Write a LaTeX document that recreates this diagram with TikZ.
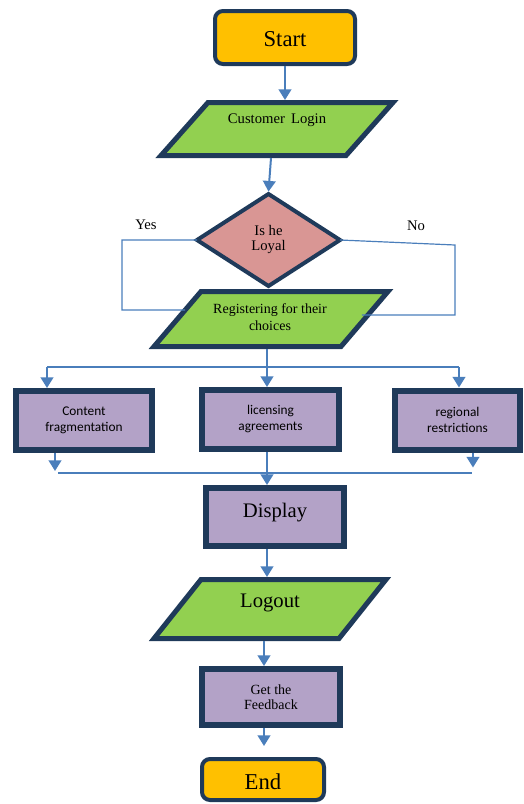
\documentclass[tikz,border=0pt]{standalone}
\usepackage{fontspec}
\setmainfont{Liberation Serif}
\newfontfamily\calfont{Carlito}
\usetikzlibrary{arrows.meta,calc}
\definecolor{navy}{HTML}{1F3A5A}
\definecolor{connblue}{HTML}{4A7EBB}
\definecolor{iogreen}{HTML}{92D050}
\definecolor{boxpurple}{HTML}{B3A2C7}
\definecolor{termorange}{HTML}{FFC000}
\definecolor{loyalpink}{HTML}{D99694}
\begin{document}
\begin{tikzpicture}[x=0.75pt,y=-0.75pt,
  box/.style={draw=navy,line width=4.5pt,fill=boxpurple,inner sep=0pt,align=center},
  term/.style={draw=navy,line width=3pt,fill=termorange,rounded corners=6pt,inner sep=0pt},
  frame/.style={draw=none,inner sep=0pt,outer sep=0pt},
  para/.style={draw=navy,line width=3.75pt,fill=iogreen,line join=miter},
  txt/.style={inner sep=0pt,align=center},
  conn/.style={draw=connblue,line width=0.9pt},
  arr/.style={draw=connblue,line width=1.5pt,-{Triangle[width=9.5pt,length=8pt]}}
]
\useasboundingbox (0,0) rectangle (524,804);

% Start
\node[term,minimum width=105pt,minimum height=39.75pt] (start) at (285,37.5) {};
\node[txt,font=\fontsize{17}{20}\selectfont] (startT) at (285,39) {Start};

% Customer Login
\node[frame,minimum width=174pt,minimum height=39.75pt] (login) at (277,129) {};
\path[para] ([xshift=35.25pt]login.north west) -- (login.north east) -- ([xshift=-35.25pt]login.south east) -- (login.south west) -- cycle;
\node[txt,font=\fontsize{11}{13}\selectfont] (loginT) at (277,120) {Customer\, Login};

% Is he Loyal
\node[frame,minimum width=107.25pt,minimum height=69pt] (loyal) at (268.5,240) {};
\path[draw=navy,line width=3pt,fill=loyalpink,line join=miter] (loyal.north) -- (loyal.east) -- (loyal.south) -- (loyal.west) -- cycle;
\node[txt,font=\fontsize{11}{11.25}\selectfont] (loyalT) at (268.5,239) {Is he\\Loyal};

\node[txt,font=\fontsize{11}{13}\selectfont] (yes) at (146,225) {Yes};
\node[txt,font=\fontsize{11}{13}\selectfont] (no) at (416,226) {No};

% Registering
\node[frame,minimum width=175.5pt,minimum height=41.25pt] (reg) at (271,319) {};
\coordinate (regTL) at ([xshift=35.25pt]reg.north west);
\coordinate (regTR) at (reg.north east);
\coordinate (regBR) at ([xshift=-35.25pt]reg.south east);
\coordinate (regBL) at (reg.south west);
\path[para] (regTL) -- (regTR) -- (regBR) -- (regBL) -- cycle;
\node[txt,font=\fontsize{10.5}{12.75}\selectfont] (regT) at (270,317.5) {Registering for their\\choices};

% Three boxes
\node[box,minimum width=102pt,minimum height=44.25pt,font=\calfont\fontsize{10}{12}\selectfont] (content) at (84,420.5) {Content\\fragmentation};
\node[box,minimum width=102.75pt,minimum height=44.25pt,font=\calfont\fontsize{10}{12}\selectfont] (lic) at (270.5,419.5) {licensing\\agreements};
\node[box,minimum width=93.75pt,minimum height=44.25pt,font=\calfont\fontsize{10}{12}\selectfont] (regional) at (457.5,420) {regional\\restrictions};

% Display
\node[box,minimum width=103.5pt,minimum height=43.5pt] (disp) at (275,517) {};
\node[txt,font=\fontsize{15.5}{18}\selectfont] (dispT) at (275,513) {Display};

% Logout
\node[frame,minimum width=174pt,minimum height=44.25pt] (logout) at (270,609) {};
\path[para] ([xshift=35.25pt]logout.north west) -- (logout.north east) -- ([xshift=-35.25pt]logout.south east) -- (logout.south west) -- cycle;
\node[txt,font=\fontsize{15.5}{18}\selectfont] (logoutT) at (270,603) {Logout};

% Feedback
\node[box,minimum width=103.5pt,minimum height=42pt,font=\fontsize{10.5}{11.25}\selectfont] (fb) at (271,697) {Get the\\Feedback};

% End
\node[term,minimum width=91.5pt,minimum height=30.75pt] (end) at (263,779.5) {};
\node[txt,font=\fontsize{17}{20}\selectfont] (endT) at (263,782) {End};

% Connectors
\draw[arr] (start.south) -- ($(start.south |- login.north)+(0,-2.5)$);
\draw[arr] ($(login.south)+(-6,2.5)$) -- ($(loyal.north)+(0,-2.4)$);

\coordinate (yesA) at (122,240);
\coordinate (yesB) at (122,310);
\draw[conn] (loyal.west) -- (yesA) -- (yesB) -- ($(regTL)!0.336!(regBL)$);
\coordinate (noA) at (455,245);
\coordinate (noB) at (455,315);
\draw[conn] (loyal.east) -- (noA) -- (noB) -- ($($(regTR)!0.427!(regBR)$)+(-6,0)$);

\draw[arr] ($(reg.south)+(-4,2.5)$) -- ($(lic.north)+(-3.5,0)$);
\coordinate (brL) at (47,367);
\coordinate (brR) at (459,367);
\draw[conn] (brL) -- (brR);
\draw[arr] (brL) -- (brL |- content.north);
\draw[arr] (brR) -- (brR |- regional.north);

\coordinate (mgL) at (58,473);
\coordinate (mgR) at (472,473);
\draw[conn] (mgL) -- (mgR);
\draw[arr] ($(content.south)+(-29,0)$) -- ($(content.south)+(-29,18)$);
\draw[arr] ($(regional.south)+(15.5,0)$) -- ($(regional.south)+(15.5,15)$);
\draw[arr] ($(lic.south)+(-3.5,0)$) -- ($(disp.north)+(-8,0)$);

\draw[arr] ($(disp.south)+(-8,0)$) -- ($(logout.north)+(-3,-2.5)$);
\draw[arr] ($(logout.south)+(-6,2.5)$) -- ($(fb.north)+(-7,0)$);
\coordinate (fbEnd) at ($(fb.south)+(-7,18)$);
\draw[arr] ($(fb.south)+(-7,0)$) -- (fbEnd);
\end{tikzpicture}
\end{document}
